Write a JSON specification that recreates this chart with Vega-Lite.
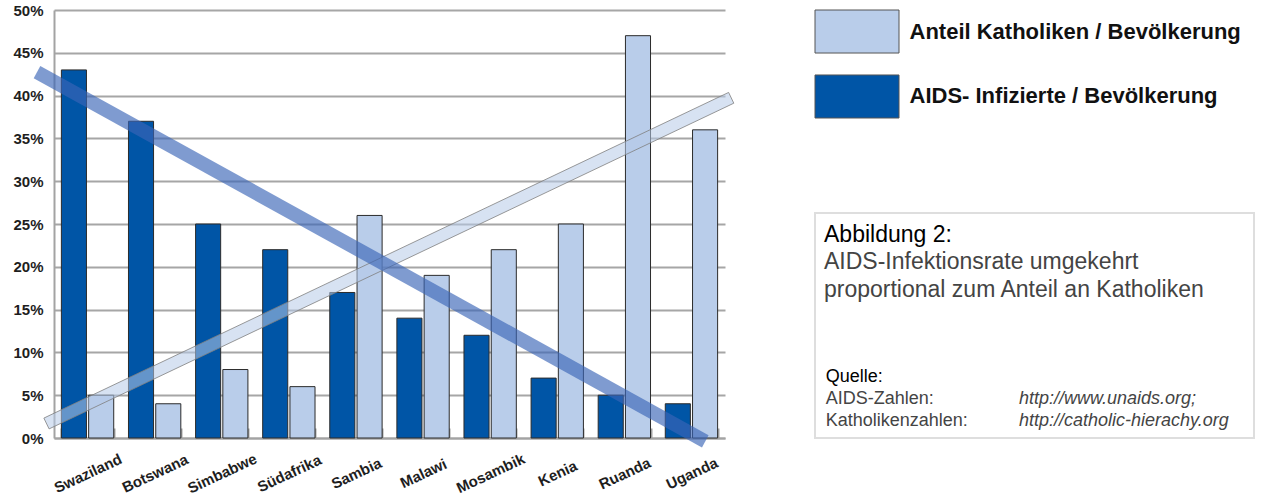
{
  "$schema": "https://vega.github.io/schema/vega-lite/v6.json",
  "padding": {"left": 12, "top": 3, "right": 0, "bottom": 0},
  "background": "white",
  "config": {
    "view": {"stroke": null},
    "font": "Liberation Sans"
  },
  "datasets": {
    "bars": [
      {"land": "Swaziland", "serie": "AIDS- Infizierte / Bevölkerung", "anteil": 43},
      {"land": "Swaziland", "serie": "Anteil Katholiken / Bevölkerung", "anteil": 5},
      {"land": "Botswana", "serie": "AIDS- Infizierte / Bevölkerung", "anteil": 37},
      {"land": "Botswana", "serie": "Anteil Katholiken / Bevölkerung", "anteil": 4},
      {"land": "Simbabwe", "serie": "AIDS- Infizierte / Bevölkerung", "anteil": 25},
      {"land": "Simbabwe", "serie": "Anteil Katholiken / Bevölkerung", "anteil": 8},
      {"land": "Südafrika", "serie": "AIDS- Infizierte / Bevölkerung", "anteil": 22},
      {"land": "Südafrika", "serie": "Anteil Katholiken / Bevölkerung", "anteil": 6},
      {"land": "Sambia", "serie": "AIDS- Infizierte / Bevölkerung", "anteil": 17},
      {"land": "Sambia", "serie": "Anteil Katholiken / Bevölkerung", "anteil": 26},
      {"land": "Malawi", "serie": "AIDS- Infizierte / Bevölkerung", "anteil": 14},
      {"land": "Malawi", "serie": "Anteil Katholiken / Bevölkerung", "anteil": 19},
      {"land": "Mosambik", "serie": "AIDS- Infizierte / Bevölkerung", "anteil": 12},
      {"land": "Mosambik", "serie": "Anteil Katholiken / Bevölkerung", "anteil": 22},
      {"land": "Kenia", "serie": "AIDS- Infizierte / Bevölkerung", "anteil": 7},
      {"land": "Kenia", "serie": "Anteil Katholiken / Bevölkerung", "anteil": 25},
      {"land": "Ruanda", "serie": "AIDS- Infizierte / Bevölkerung", "anteil": 5},
      {"land": "Ruanda", "serie": "Anteil Katholiken / Bevölkerung", "anteil": 47},
      {"land": "Uganda", "serie": "AIDS- Infizierte / Bevölkerung", "anteil": 4},
      {"land": "Uganda", "serie": "Anteil Katholiken / Bevölkerung", "anteil": 36}
    ],
    "baender": [
      {"trend": "AIDS", "k": 0, "pos": -0.303, "anteil": 42.03},
      {"trend": "AIDS", "k": 1, "pos": -0.204, "anteil": 43.47},
      {"trend": "AIDS", "k": 2, "pos": 9.755, "anteil": 0.334},
      {"trend": "AIDS", "k": 3, "pos": 9.657, "anteil": -1.105},
      {"trend": "AIDS", "k": 4, "pos": -0.303, "anteil": 42.03},
      {"trend": "Katholiken", "k": 0, "pos": -0.151, "anteil": 2.325},
      {"trend": "Katholiken", "k": 1, "pos": 10.054, "anteil": 40.37},
      {"trend": "Katholiken", "k": 2, "pos": 10.131, "anteil": 39.11},
      {"trend": "Katholiken", "k": 3, "pos": -0.073, "anteil": 1.063},
      {"trend": "Katholiken", "k": 4, "pos": -0.151, "anteil": 2.325}
    ],
    "serien": [
      {"serie": "Anteil Katholiken / Bevölkerung"},
      {"serie": "AIDS- Infizierte / Bevölkerung"}
    ],
    "quellen": [
      {"zeile": 1, "label": "Quelle:", "url": ""},
      {"zeile": 2, "label": "AIDS-Zahlen:", "url": "http://www.unaids.org;"},
      {"zeile": 3, "label": "Katholikenzahlen:", "url": "http://catholic-hierachy.org"}
    ]
  },
  "hconcat": [
    {
      "width": 671,
      "height": 428,
      "layer": [
        {
          "data": {"name": "bars"},
          "mark": {"type": "bar", "stroke": "#2b2b2b", "strokeWidth": 1},
          "encoding": {
            "x": {
              "field": "land", "type": "nominal", "sort": null,
              "scale": {"paddingInner": 0.22, "paddingOuter": 0.11},
              "axis": {
                "title": null, "domainColor": "#a3a3a3", "domainWidth": 2,
                "ticks": true, "tickBand": "extent", "tickColor": "#a3a3a3", "tickWidth": 2, "tickSize": -10,
                "labelAngle": -25, "labelAlign": "center", "labelBaseline": "middle", "labelPadding": 45,
                "labelFont": "Liberation Sans", "labelFontWeight": "bold", "labelFontSize": 15, "labelColor": "#1e1e1e"
              }
            },
            "xOffset": {
              "field": "serie", "type": "nominal",
              "scale": {"domain": ["AIDS- Infizierte / Bevölkerung", "Anteil Katholiken / Bevölkerung"], "paddingInner": 0.08}
            },
            "y": {
              "field": "anteil", "type": "quantitative",
              "scale": {"domain": [0, 50], "nice": false},
              "axis": {
                "title": null, "values": [0, 5, 10, 15, 20, 25, 30, 35, 40, 45, 50],
                "labelExpr": "datum.value + '%'",
                "domainColor": "#a3a3a3", "domainWidth": 2, "ticks": false,
                "gridColor": "#a6a6a6", "gridWidth": 2, "labelPadding": 11,
                "labelFont": "Liberation Sans", "labelFontWeight": "bold", "labelFontSize": 15, "labelColor": "#1e1e1e"
              }
            },
            "color": {
              "field": "serie", "type": "nominal", "legend": null,
              "scale": {"domain": ["Anteil Katholiken / Bevölkerung", "AIDS- Infizierte / Bevölkerung"], "range": ["#b9cdea", "#0055a6"]}
            }
          }
        },
        {
          "data": {"name": "baender"},
          "transform": [{"filter": "datum.trend == 'Katholiken'"}],
          "mark": {"type": "line", "fill": "#b7cae7", "fillOpacity": 0.55, "stroke": "#7f7f7f", "strokeWidth": 1, "strokeOpacity": 0.8},
          "encoding": {
            "x": {"field": "pos", "type": "quantitative", "scale": {"domain": [0, 10], "nice": false, "zero": false}, "axis": null},
            "y": {"field": "anteil", "type": "quantitative"},
            "order": {"field": "k", "type": "quantitative"}
          }
        },
        {
          "data": {"name": "baender"},
          "transform": [{"filter": "datum.trend == 'AIDS'"}],
          "mark": {"type": "line", "fill": "#3a65b7", "fillOpacity": 0.65, "strokeWidth": 0},
          "encoding": {
            "x": {"field": "pos", "type": "quantitative", "scale": {"domain": [0, 10], "nice": false, "zero": false}, "axis": null},
            "y": {"field": "anteil", "type": "quantitative"},
            "order": {"field": "k", "type": "quantitative"}
          }
        }
      ],
      "resolve": {"scale": {"x": "independent"}}
    },
    {
      "bounds": "flush",
      "spacing": 95,
      "vconcat": [
        {
          "width": 84,
          "height": 108,
          "data": {"name": "serien"},
          "mark": {"type": "rect", "stroke": "#555555", "strokeWidth": 1},
          "encoding": {
            "y": {
              "field": "serie", "type": "nominal", "sort": null,
              "scale": {"paddingInner": 0.338, "paddingOuter": 0},
              "axis": {
                "orient": "right", "title": null, "domain": false, "ticks": false, "labelPadding": 10,
                "labelFont": "Liberation Sans", "labelFontWeight": "bold", "labelFontSize": 22, "labelColor": "#111111",
                "labelLimit": 500
              }
            },
            "color": {"field": "serie", "type": "nominal", "legend": null}
          }
        },
        {
          "width": 439,
          "height": 225,
          "view": {"stroke": "#dedede", "strokeWidth": 2},
          "title": {
            "text": "Abbildung 2:",
            "subtitle": ["AIDS-Infektionsrate umgekehrt", "proportional zum Anteil an Katholiken"],
            "anchor": "start", "frame": "group", "orient": "top", "offset": -89, "dx": 9,
            "font": "Liberation Sans", "fontSize": 23, "fontWeight": "normal", "color": "#000000",
            "subtitleFont": "Liberation Sans", "subtitleFontSize": 23, "subtitleColor": "#444444",
            "subtitleLineHeight": 28.5, "subtitlePadding": 4
          },
          "data": {"name": "quellen"},
          "layer": [
            {
              "mark": {"type": "text", "align": "left", "baseline": "alphabetic", "fontSize": 18, "font": "Liberation Sans"},
              "encoding": {
                "x": {"datum": 0, "type": "quantitative", "scale": {"domain": [-0.0554, 2.2157], "nice": false, "zero": false}, "axis": null},
                "y": {"field": "zeile", "type": "quantitative", "scale": {"domain": [-6.8, 3.57], "nice": false, "zero": false, "reverse": true}, "axis": null},
                "text": {"field": "label"},
                "color": {"condition": {"test": "datum.zeile == 1", "value": "#000000"}, "value": "#444444"}
              }
            },
            {
              "mark": {"type": "text", "align": "left", "baseline": "alphabetic", "fontSize": 18, "font": "Liberation Sans", "fontStyle": "italic", "color": "#444444"},
              "encoding": {
                "x": {"datum": 1, "type": "quantitative"},
                "y": {"field": "zeile", "type": "quantitative"},
                "text": {"field": "url"}
              }
            }
          ]
        }
      ]
    }
  ],
  "bounds": "flush",
  "spacing": 90
}
